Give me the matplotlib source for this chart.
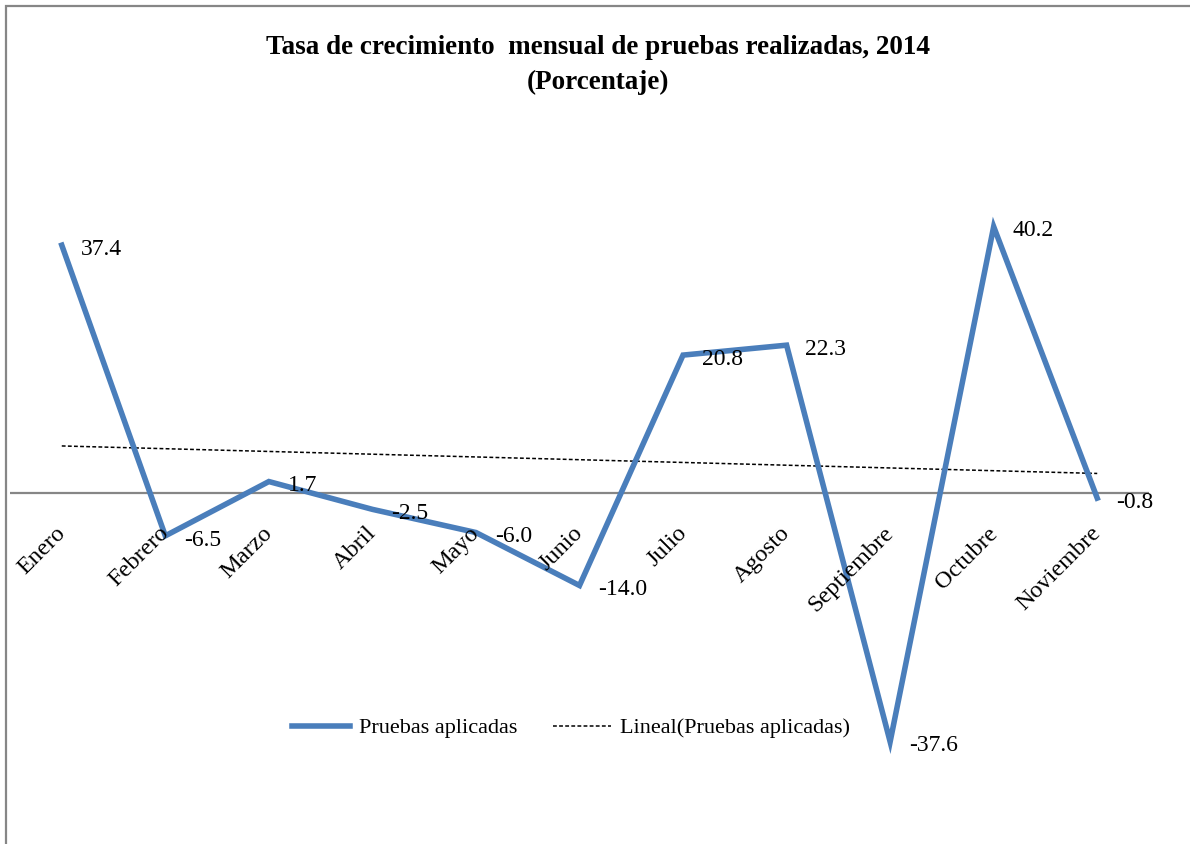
import matplotlib
matplotlib.use('Agg')
import matplotlib.pyplot as plt
import matplotlib.transforms as mtransforms
from matplotlib.patches import Rectangle
import numpy as np

plt.rcParams['font.family'] = ['Liberation Serif', 'DejaVu Serif']

meses = ['Enero', 'Febrero', 'Marzo', 'Abril', 'Mayo', 'Junio', 'Julio',
         'Agosto', 'Septiembre', 'Octubre', 'Noviembre']
tasa = [37.4, -6.5, 1.7, -2.5, -6.0, -14.0, 20.8, 22.3, -37.6, 40.2, -0.8]

titulo = 'Tasa de crecimiento  mensual de pruebas realizadas, 2014\n(Porcentaje)'
serie = 'Pruebas aplicadas'
serie_tend = 'Lineal(Pruebas aplicadas)'

azul = '#4A7EBB'
gris = '#868686'

W, H = 1190, 844
fig = plt.figure(figsize=(W / 100, H / 100), dpi=100)

# marco gris del grafico (Excel)
fig.patches.append(Rectangle((6 / W, -0.1), 2, 1 - 6 / H + 0.1, transform=fig.transFigure,
                             fill=False, edgecolor=gris, lw=1.6))

# area de trazado: x 10..1149 px, y 130..800 px
ax = fig.add_axes([10 / W, (H - 800) / H, 1139 / W, 670 / H])
ax.set_xlim(-0.5, len(meses) - 0.5)
ax.set_ylim(-46.4, 54.8)
ax.axis('off')

x = np.arange(len(meses))
ax.axhline(0, color=gris, lw=1.6, zorder=1)

ax.plot(x, tasa, color=azul, lw=4, solid_joinstyle='miter', zorder=3)

# linea de tendencia lineal
m, b = np.polyfit(x, tasa, 1)
ax.plot(x, m * x + b, color='black', lw=1.1, ls=(0, (2.5, 1.5)), zorder=2)

# etiquetas de datos
for xi, v in zip(x, tasa):
    ax.annotate(f'{v:.1f}', (xi, v), xytext=(13.5, -3), textcoords='offset points',
                ha='left', va='center', fontsize=17, zorder=4)

# etiquetas de categorias giradas 45 grados bajo el eje
tr = mtransforms.offset_copy(ax.transData, fig=fig, x=-7, y=-30, units='dots')
for xi, lab in zip(x, meses):
    ax.text(xi, 0, lab, transform=tr, rotation=45, rotation_mode='anchor',
            ha='right', va='top', fontsize=17.5)

fig.text(598 / W, 1 - 65 / H, titulo, ha='center', va='center', fontsize=19.5,
         fontweight='bold', linespacing=1.55)

h1, = ax.plot([], [], color=azul, lw=4, label=serie)
h2, = ax.plot([], [], color='black', lw=1.1, ls=(0, (2.5, 1.5)), label=serie_tend)
fig.legend(handles=[h1, h2], loc='center', bbox_to_anchor=(571 / W, 1 - 728 / H),
           ncol=2, frameon=False, fontsize=16, handlelength=2.6, handletextpad=0.4,
           columnspacing=1.6)

fig.savefig('out.png', dpi=100, facecolor='white')
